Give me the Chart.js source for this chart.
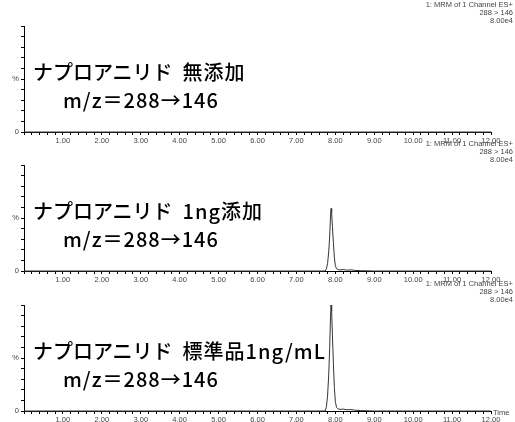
<!DOCTYPE html>
<html><head><meta charset="utf-8">
<script src="https://cdn.jsdelivr.net/npm/chart.js@4.4.1/dist/chart.umd.min.js"></script>
<style>
html,body{margin:0;padding:0;background:#fff;width:515px;height:422px;overflow:hidden;}
.panel{position:absolute;left:0;width:515px;height:145px;}
.panel canvas{position:absolute;left:0;top:0;}
.hdr{position:absolute;right:2px;top:1px;font:7.5px "Liberation Sans",Arial,sans-serif;color:#444;text-align:right;line-height:8px;white-space:pre;}
.jp1,.jp2{position:absolute;font-family:"Noto Sans CJK JP",sans-serif;font-size:20px;line-height:20px;color:#000;white-space:pre;font-weight:500;}
.jp1{left:33px;top:62px;}
.jp1 .tail{letter-spacing:1px;}
.jp2{left:63px;top:90px;letter-spacing:1px;}
.time{position:absolute;left:493px;top:129px;font:7.5px "Liberation Sans",Arial,sans-serif;color:#444;}
</style></head>
<body>
<script>
// ---- data ----
const headerLines = ["1: MRM of 1 Channel ES+", "288 > 146", "8.00e4"];
const compoundName = "ナプロアニリド";
const sampleLabels = ["無添加", "1ng添加", "標準品1ng/mL"];
const transitionLabel = "m/z＝288→146";
const xTickLabels = ["1.00","2.00","3.00","4.00","5.00","6.00","7.00","8.00","9.00","10.00","11.00","12.00"];
const yTickLabels = {0: "0", 50: "%"};
const timeLabel = "Time";

// retention time (min) and relative intensity (%)
const time1 = [0, 12];
const blankValues = [0, 0];
const timePeak = [0, 7.74, 7.77, 7.80, 7.83, 7.855, 7.875, 7.89, 7.905, 7.925, 7.95, 7.975, 8.00, 8.03, 8.07, 8.12, 8.20, 8.30, 8.40, 8.50, 8.65, 9.00, 12.00];
const spiked1ngValues = [0, 0, 2, 7, 18, 33, 51, 59, 55, 42, 27, 13, 5, 2.2, 1.2, 1, 1.3, 0.8, 1.1, 0.6, 0.3, 0, 0];
const standard1ngValues = [0, 0, 4, 14, 34, 60, 88, 100, 94, 72, 45, 22, 9, 3.5, 2, 1.5, 1.8, 1.1, 1.4, 0.8, 0.4, 0, 0];

const panels = [
  {top: 0, t: time1, v: blankValues, label: sampleLabels[0], showTime: false},
  {top: 139, t: timePeak, v: spiked1ngValues, label: sampleLabels[1], showTime: false},
  {top: 279, t: timePeak, v: standard1ngValues, label: sampleLabels[2], showTime: true}
];

function tickFont(){ return {family: '"Liberation Sans", Arial, sans-serif', size: 7.5}; }

panels.forEach((p, i) => {
  const div = document.createElement('div');
  div.className = 'panel';
  div.style.top = p.top + 'px';
  const cv = document.createElement('canvas');
  cv.width = 515; cv.height = 145;
  div.appendChild(cv);
  const hdr = document.createElement('div');
  hdr.className = 'hdr';
  hdr.textContent = headerLines.join('\n');
  div.appendChild(hdr);
  const j1 = document.createElement('div'); j1.className = 'jp1';
  j1.appendChild(document.createTextNode(compoundName + '\u2002'));
  const tail = document.createElement('span'); tail.className = 'tail'; tail.textContent = p.label;
  j1.appendChild(tail);
  div.appendChild(j1);
  const j2 = document.createElement('div'); j2.className = 'jp2'; j2.textContent = transitionLabel; div.appendChild(j2);
  if (p.showTime) {
    const tm = document.createElement('div'); tm.className = 'time'; tm.textContent = timeLabel; div.appendChild(tm);
  }
  document.body.appendChild(div);

  new Chart(cv, {
    type: 'line',
    data: {
      datasets: [{
        data: p.t.map((x, k) => ({x: x, y: p.v[k]})),
        borderColor: '#333',
        borderWidth: 1,
        pointRadius: 0,
        tension: 0,
        fill: false,
        clip: false
      }]
    },
    options: {
      responsive: false,
      animation: false,
      events: [],
      layout: {padding: {top: 26, left: 0, right: 24, bottom: 0}},
      plugins: {legend: {display: false}, tooltip: {enabled: false}, title: {display: false}},
      scales: {
        x: {
          type: 'linear', min: 0, max: 12,
          afterFit: s => { s.height = 13; },
          border: {color: '#000', width: 1},
          grid: {drawOnChartArea: false, drawTicks: true, tickLength: 3, tickColor: '#000', tickWidth: 1},
          ticks: {
            stepSize: 0.2, autoSkip: false, maxRotation: 0, minRotation: 0, padding: 1,
            color: '#444', font: tickFont(),
            callback: v => {
              const r = Math.round(v);
              if (Math.abs(v - r) < 1e-6 && r >= 1) return xTickLabels[r - 1];
              return '';
            }
          }
        },
        y: {
          min: 0, max: 100,
          afterFit: s => { s.width = 24; },
          border: {color: '#000', width: 1},
          grid: {drawOnChartArea: false, drawTicks: true, tickLength: 3, tickColor: '#000'},
          ticks: {
            stepSize: 10, autoSkip: false, padding: 2, color: '#444', font: tickFont(),
            callback: v => (yTickLabels[Math.round(v)] !== undefined && Math.abs(v - Math.round(v)) < 1e-6) ? yTickLabels[Math.round(v)] : ''
          }
        }
      }
    }
  });
});
</script>
</body></html>
